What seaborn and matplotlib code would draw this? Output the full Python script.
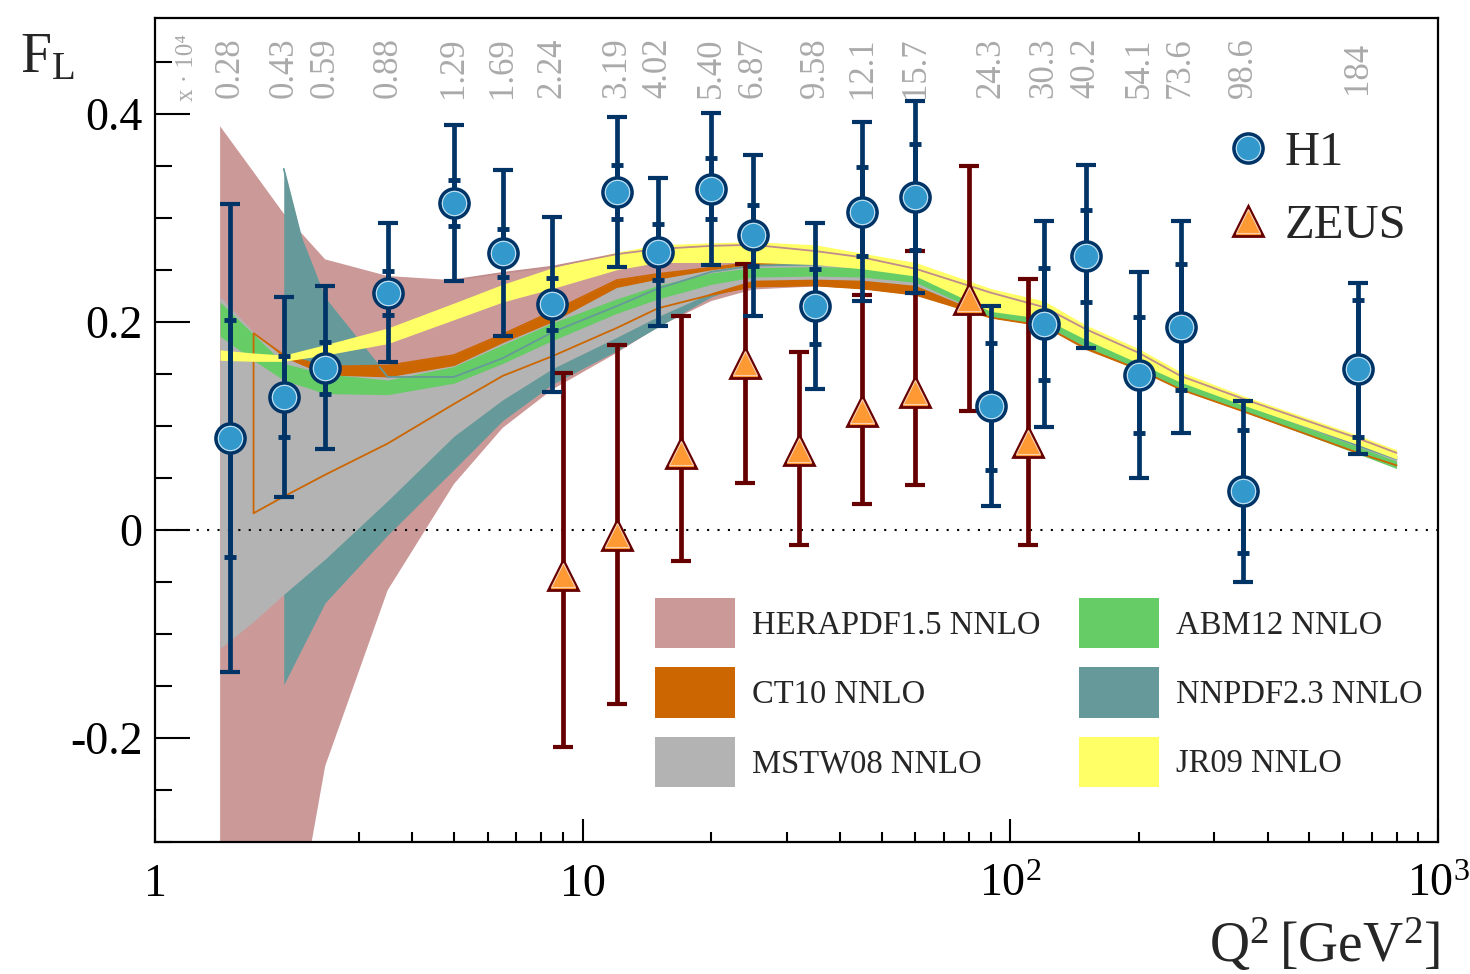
import numpy as np
import matplotlib
matplotlib.use('Agg')
import matplotlib.pyplot as plt
import seaborn as sns
from matplotlib.patches import Patch
from matplotlib.lines import Line2D
from matplotlib.ticker import LogLocator, MultipleLocator, NullFormatter

# ---- data ----
h1_q2 = [1.5, 2.0, 2.5, 3.5, 5.0, 6.5, 8.5, 12, 15, 20, 25, 35, 45, 60, 90, 120, 150, 200, 250, 350, 650]
h1_fl = [0.088, 0.128, 0.156, 0.228, 0.314, 0.266, 0.217, 0.325, 0.267, 0.328, 0.283, 0.215, 0.306, 0.320,
         0.119, 0.198, 0.263, 0.149, 0.195, 0.037, 0.155]
h1_err_tot = [0.225, 0.096, 0.078, 0.067, 0.075, 0.080, 0.084, 0.072, 0.071, 0.073, 0.077, 0.080, 0.086, 0.092,
              0.096, 0.099, 0.088, 0.099, 0.102, 0.087, 0.082]
h1_err_stat = [0.114, 0.039, 0.025, 0.021, 0.022, 0.023, 0.025, 0.026, 0.027, 0.029, 0.029, 0.036, 0.043, 0.051,
               0.061, 0.054, 0.044, 0.056, 0.061, 0.059, 0.066]
top_labels = ['0.28', '0.43', '0.59', '0.88', '1.29', '1.69', '2.24', '3.19', '4.02', '5.40', '6.87', '9.58',
              '12.1', '15.7', '24.3', '30.3', '40.2', '54.1', '73.6', '98.6', '184']

zeus_q2 = [9, 12, 17, 24, 32, 45, 60, 80, 110]
zeus_fl = [-0.043, -0.005, 0.074, 0.160, 0.077, 0.114, 0.133, 0.222, 0.084]
zeus_err_up = [0.194, 0.183, 0.132, 0.096, 0.094, 0.112, 0.135, 0.128, 0.157]
zeus_err_dn = [0.166, 0.162, 0.104, 0.115, 0.092, 0.089, 0.090, 0.108, 0.099]

q_nodes = [1.42, 1.7, 2.0, 2.5, 3.5, 5.0, 6.5, 8.5, 12, 15, 20, 25, 35, 45, 60, 90, 120, 150, 200, 250, 350, 650, 800]
hera_lo = [-0.90, -0.70, -0.45, -0.227, -0.058, 0.044, 0.098, 0.135, 0.170, 0.195, 0.220, 0.231, 0.234, 0.232,
           0.226, 0.205, 0.197, 0.175, 0.156, 0.137, 0.117, 0.077, 0.064]
hera_hi = [0.388, 0.344, 0.304, 0.260, 0.244, 0.240, 0.247, 0.253, 0.265, 0.270, 0.273, 0.274, 0.268, 0.262,
           0.251, 0.228, 0.214, 0.193, 0.170, 0.148, 0.126, 0.088, 0.074]
jr_lo = [0.163, 0.162, 0.162, 0.168, 0.179, 0.202, 0.219, 0.232, 0.250, 0.257, 0.257, 0.257, 0.255, 0.251,
         0.244, 0.210, 0.203, 0.183, 0.160, 0.142, 0.120, 0.082, 0.068]
jr_hi = [0.173, 0.170, 0.168, 0.178, 0.194, 0.218, 0.236, 0.252, 0.267, 0.274, 0.276, 0.277, 0.274, 0.266,
         0.257, 0.232, 0.220, 0.197, 0.174, 0.152, 0.129, 0.091, 0.077]
abm_lo = [0.186, 0.163, 0.144, 0.131, 0.130, 0.141, 0.160, 0.182, 0.208, 0.222, 0.236, 0.243, 0.244, 0.243,
          0.238, 0.205, 0.197, 0.176, 0.155, 0.135, 0.114, 0.073, 0.059]
abm_hi = [0.219, 0.188, 0.160, 0.150, 0.144, 0.157, 0.178, 0.199, 0.222, 0.235, 0.247, 0.252, 0.253, 0.252,
          0.247, 0.215, 0.206, 0.184, 0.163, 0.143, 0.121, 0.080, 0.066]
mstw_lo = [-0.114, -0.088, -0.062, -0.028, 0.028, 0.090, 0.125, 0.155, 0.185, 0.205, 0.228, 0.240, 0.241, 0.240,
           0.235, 0.205, 0.197, 0.176, 0.156, 0.136, 0.116, 0.076, 0.063]
mstw_hi = [0.224, 0.190, 0.166, 0.149, 0.147, 0.158, 0.180, 0.200, 0.233, 0.241, 0.250, 0.255, 0.256, 0.255,
           0.250, 0.214, 0.206, 0.185, 0.164, 0.144, 0.122, 0.082, 0.069]

nnpdf_q2 = [2.0, 2.2, 2.5, 3.5, 5.0, 6.5, 8.5, 12, 15, 20, 25, 35, 45, 60, 90, 120, 150, 200, 250, 350, 650, 800]
nnpdf_lo = [-0.149, -0.115, -0.070, -0.005, 0.058, 0.105, 0.140, 0.172, 0.195, 0.224, 0.238, 0.240, 0.239, 0.234,
            0.205, 0.197, 0.176, 0.156, 0.137, 0.116, 0.076, 0.063]
nnpdf_hi = [0.347, 0.280, 0.222, 0.147, 0.147, 0.165, 0.190, 0.215, 0.232, 0.248, 0.254, 0.255, 0.254, 0.249,
            0.213, 0.205, 0.185, 0.164, 0.145, 0.122, 0.081, 0.068]

ct_q2 = [1.7, 2.0, 2.5, 3.5, 5.0, 6.5, 8.5, 12, 15, 20, 25, 35, 45, 60, 90, 120, 150, 200, 250, 350, 650, 800]
ct_lo = [0.016, 0.032, 0.053, 0.083, 0.121, 0.148, 0.167, 0.194, 0.213, 0.226, 0.234, 0.235, 0.232, 0.226,
         0.204, 0.196, 0.174, 0.154, 0.135, 0.114, 0.074, 0.062]
ct_hi = [0.189, 0.168, 0.157, 0.158, 0.168, 0.188, 0.210, 0.240, 0.246, 0.252, 0.257, 0.258, 0.256, 0.251,
         0.216, 0.207, 0.186, 0.165, 0.146, 0.123, 0.083, 0.070]

pdf_names = ['HERAPDF1.5 NNLO', 'CT10 NNLO', 'MSTW08 NNLO', 'ABM12 NNLO', 'NNPDF2.3 NNLO', 'JR09 NNLO']
pdf_colors = ['#CC9999', '#CC6600', '#B3B3B3', '#66CC66', '#669999', '#FFFF66']

# ---- style ----
sns.set_style('ticks')
plt.rcParams['font.family'] = ['Liberation Serif', 'DejaVu Serif']
plt.rcParams['mathtext.fontset'] = 'custom'
plt.rcParams['mathtext.rm'] = 'Liberation Serif'
plt.rcParams['axes.unicode_minus'] = False
plt.rcParams['axes.edgecolor'] = 'black'
plt.rcParams['xtick.color'] = 'black'
plt.rcParams['ytick.color'] = 'black'

fig = plt.figure(figsize=(14.7, 9.74), dpi=100)
ax = fig.add_axes([0.10544, 0.13552, 0.87279, 0.846])
ax.set_xscale('log')

col = dict(zip(pdf_names, pdf_colors))

# bands, bottom to top
ax.fill_between(q_nodes, hera_lo, hera_hi, color=col['HERAPDF1.5 NNLO'], lw=0, zorder=1)
ax.fill_between(nnpdf_q2, nnpdf_lo, nnpdf_hi, color=col['NNPDF2.3 NNLO'], lw=0, zorder=2)
ax.fill_between(ct_q2, ct_lo, ct_hi, color=col['CT10 NNLO'], lw=0, zorder=3)
ax.fill_between(q_nodes, mstw_lo, mstw_hi, color=col['MSTW08 NNLO'], lw=0, zorder=4)
ax.fill_between(q_nodes, abm_lo, abm_hi, color=col['ABM12 NNLO'], lw=0, zorder=5)
ax.fill_between(q_nodes, jr_lo, jr_hi, color=col['JR09 NNLO'], lw=0, zorder=6)

# band edge lines that show through the fills
sns.lineplot(x=nnpdf_q2, y=nnpdf_hi, color='#669999', lw=1.3, ax=ax, zorder=5.5)
ct_x = ct_q2[::-1] + ct_q2
ct_y = ct_hi[::-1] + ct_lo
sns.lineplot(x=ct_x, y=ct_y, sort=False, estimator=None, color='#CC6600', lw=1.3, ax=ax, zorder=5.6)
sns.lineplot(x=q_nodes[5:], y=hera_hi[5:], color='#C08C8C', lw=1.3, ax=ax, zorder=6.5)

ax.axhline(0, color='black', ls=(0, (1, 4)), lw=1.5, zorder=7)

# ZEUS
ax.errorbar(zeus_q2, zeus_fl, yerr=[zeus_err_dn, zeus_err_up], fmt='none', ecolor='#660000',
            elinewidth=3.4, capsize=7.5, capthick=3, zorder=8)
ax.plot(zeus_q2, zeus_fl, ls='none', marker='^', ms=22, mfc='#FF9933', mec='#660000', mew=2, zorder=9)
ax.plot(zeus_q2, zeus_fl, ls='none', marker='^', ms=17.5, mfc='none', mec='#F8D0B0', mew=0.8, zorder=9.5)

# H1
ax.errorbar(h1_q2, h1_fl, yerr=h1_err_tot, fmt='none', ecolor='#003366',
            elinewidth=3.4, capsize=7.5, capthick=3, zorder=10)
ax.errorbar(h1_q2, h1_fl, yerr=h1_err_stat, fmt='none', ecolor='#003366',
            elinewidth=3.4, capsize=4.3, capthick=3.5, zorder=10)
ax.plot(h1_q2, h1_fl, ls='none', marker='o', ms=21, mfc='#3399CC', mec='#003366', mew=2.5, zorder=11)
ax.plot(h1_q2, h1_fl, ls='none', marker='o', ms=17.5, mfc='none', mec='#C8E0F0', mew=0.8, zorder=11.5)

# top x labels
for q, lab in zip(h1_q2, top_labels):
    ax.text(q, 0.94, lab, transform=ax.get_xaxis_transform(), rotation=90, ha='center', va='center',
            color='#AAAAAA', fontsize=25, clip_on=False)
ax.text(1.19, 0.94, 'x · 10⁴', transform=ax.get_xaxis_transform(), rotation=90, ha='center', va='center',
        color='#AAAAAA', fontsize=18, clip_on=False)

# axes
ax.set_xlim(1, 1000)
ax.set_ylim(-0.3, 0.492)
ax.set_xticks([1, 10, 100, 1000])
ax.set_xticklabels(['1', '10', r'$\mathregular{10^2}$', r'$\mathregular{10^3}$'])
ax.xaxis.set_minor_locator(LogLocator(base=10, subs=np.arange(2, 10)))
ax.xaxis.set_minor_formatter(NullFormatter())
ax.set_yticks([-0.2, 0, 0.2, 0.4])
ax.set_yticklabels(['-0.2', '0', '0.2', '0.4'])
ax.yaxis.set_minor_locator(MultipleLocator(0.05))
ax.tick_params(axis='both', which='both', direction='in', width=1.5, top=False, right=False)
ax.tick_params(axis='y', which='major', length=25, pad=9, labelsize=33)
ax.tick_params(axis='y', which='minor', length=12)
ax.tick_params(axis='x', which='major', length=16.5, pad=39, labelsize=33)
ax.tick_params(axis='x', which='minor', length=7.5)
for lbl in ax.get_xticklabels():
    lbl.set_verticalalignment('baseline')
for s in ax.spines.values():
    s.set_linewidth(1.6)
    s.set_zorder(20)

fig.text(20 / 1470, 1 - 72 / 974, r'$\mathregular{F_L}$', fontsize=40, ha='left', va='baseline')
fig.text(1440 / 1470, 1 - 962 / 974, r'$\mathregular{Q^2\,[GeV^2]}$', fontsize=40, ha='right', va='baseline')

# legends
h1_handle = (Line2D([], [], ls='none', marker='o', ms=21, mfc='#3399CC', mec='#003366', mew=2.5),
             Line2D([], [], ls='none', marker='o', ms=17.5, mfc='none', mec='#C8E0F0', mew=0.8))
zeus_handle = (Line2D([], [], ls='none', marker='^', ms=22, mfc='#FF9933', mec='#660000', mew=2),
               Line2D([], [], ls='none', marker='^', ms=17.5, mfc='none', mec='#F8D0B0', mew=0.8))
leg1 = ax.legend([h1_handle, zeus_handle], ['H1', 'ZEUS'], loc='upper left', bbox_to_anchor=(0.8367, 0.863),
                 frameon=False, fontsize=35, handlelength=0.8, handletextpad=0.36, labelspacing=0.6,
                 borderpad=0, borderaxespad=0)
leg1.set_zorder(30)
ax.add_artist(leg1)

patches = [Patch(facecolor=c, edgecolor='none') for c in pdf_colors]
leg2 = ax.legend(patches, pdf_names, ncol=2, loc='upper left', bbox_to_anchor=(0.3897, 0.2961),
                 frameon=False, fontsize=23.5, handlelength=2.45, handleheight=2.0, handletextpad=0.52,
                 labelspacing=0.58, columnspacing=1.17, borderpad=0, borderaxespad=0)
leg2.set_zorder(30)

fig.savefig('out.png', dpi=100)
